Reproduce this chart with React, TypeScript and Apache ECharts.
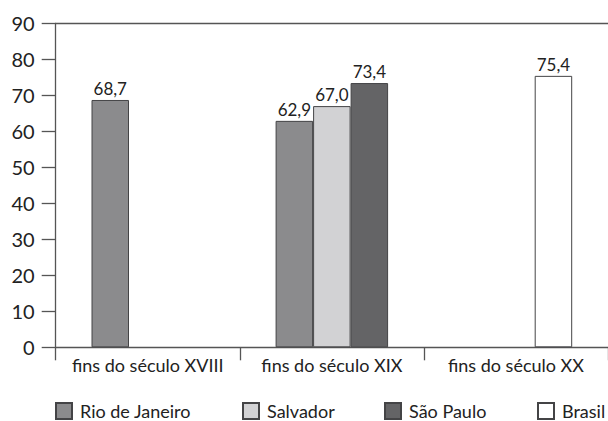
import React, { useEffect, useRef } from "react";
import * as echarts from "echarts";

const categories = ["fins do século XVIII", "fins do século XIX", "fins do século XX"];
const seriesNames = ["Rio de Janeiro", "Salvador", "São Paulo", "Brasil"];
const rioValues = [68.7, 62.9, null];
const salvadorValues = [null, 67.0, null];
const saoPauloValues = [null, 73.4, null];
const brasilValues = [null, null, 75.4];
const yTicks = { min: 0, max: 90, interval: 10 };

const FONT = "Lato";
const fills = ["#8b8b8d", "#d2d2d4", "#646466", "#ffffff"];
const BORDER = "#444446";

export default function App() {
  const ref = useRef<HTMLDivElement>(null);
  useEffect(() => {
    if (!ref.current) return;
    const chart = echarts.init(ref.current, null, { renderer: "svg" });
    const label = {
      show: true,
      position: "top" as const,
      distance: 3,
      fontFamily: FONT,
      fontSize: 17,
      color: "#222",
      formatter: (p: any) => (p.value == null ? "" : Number(p.value).toFixed(1).replace(".", ",")),
    };
    const mk = (i: number, data: any[], stack?: string) => ({
      name: seriesNames[i],
      type: "bar",
      data,
      stack,
      barWidth: 37.5,
      barGap: "0%",
      itemStyle: { color: fills[i], borderColor: BORDER, borderWidth: 1 },
      label,
    });
    const legendPos = [55, 242, 384, 537];
    chart.setOption({
      animation: false,
      textStyle: { fontFamily: FONT },
      grid: { left: 55.7, right: -7, top: 23.3, bottom: 73.7, containLabel: false },
      legend: seriesNames.map((n, i) => ({
        data: [n],
        icon: "rect",
        left: legendPos[i],
        top: 402,
        itemWidth: 16,
        itemHeight: 16,
        itemGap: 0,
        padding: 0,
        textStyle: { fontFamily: FONT, fontSize: 18, lineHeight: 18, color: "#222", padding: [0, 0, 0, 3] },
        selectedMode: false,
      })),
      xAxis: [
        {
          type: "category",
          data: categories,
          boundaryGap: true,
          axisLine: { show: true, lineStyle: { color: "#555", width: 1.3 } },
          axisTick: { show: true, length: 13, interval: 0, lineStyle: { color: "#555", width: 1.3 } },
          axisLabel: { interval: 0, fontFamily: FONT, fontSize: 18, color: "#222", margin: 9 },
        },
        {
          type: "category",
          data: categories,
          position: "top",
          axisLine: { show: true, lineStyle: { color: "#555", width: 1.3 } },
          axisTick: { show: false },
          axisLabel: { show: false },
        },
      ],
      yAxis: {
        type: "value",
        min: yTicks.min,
        max: yTicks.max,
        interval: yTicks.interval,
        axisLine: { show: true, lineStyle: { color: "#555", width: 1.3 } },
        axisTick: { show: true, length: 14, lineStyle: { color: "#555", width: 1.3 } },
        splitLine: { show: false },
        axisLabel: { fontFamily: FONT, fontSize: 20, color: "#222", margin: 21 },
      },
      series: [
        mk(0, rioValues),
        mk(1, salvadorValues),
        mk(2, saoPauloValues, "s"),
        mk(3, brasilValues, "s"),
      ],
    });
    return () => chart.dispose();
  }, []);
  return (
    <div
      ref={ref}
      style={{ position: "fixed", left: 0, top: 0, width: 608, height: 421, background: "#fff" }}
    />
  );
}
